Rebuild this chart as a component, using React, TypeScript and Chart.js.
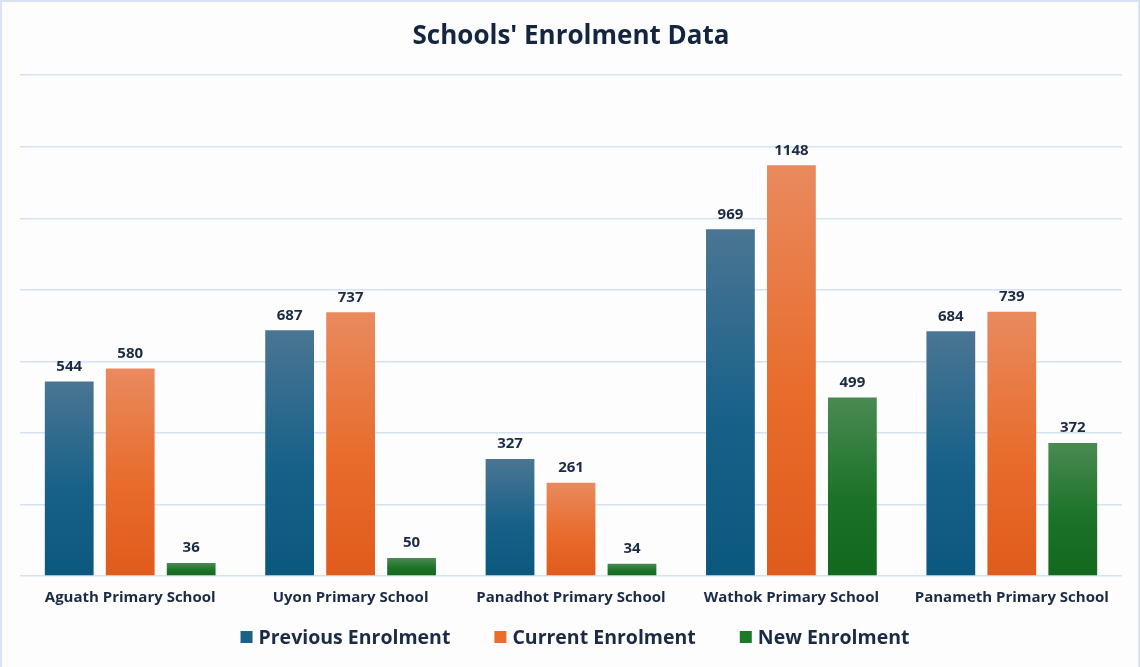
import React, { useEffect, useRef } from "react";
import { Chart, registerables } from "chart.js";

Chart.register(...registerables);

const categories = [
  "Aguath Primary School",
  "Uyon Primary School",
  "Panadhot Primary School",
  "Wathok Primary School",
  "Panameth Primary School",
];
const previousEnrolment = [544, 687, 327, 969, 684];
const currentEnrolment = [580, 737, 261, 1148, 739];
const newEnrolment = [36, 50, 34, 499, 372];
const seriesNames = ["Previous Enrolment", "Current Enrolment", "New Enrolment"];
const swatchColors = ["#1a6188", "#ea6e2a", "#1b7a2a"];

const TEXT = "#1c2b45";
const FONT = "'Open Sans', 'Noto Sans', sans-serif";

function gradient(top: string, mid: string, bottom: string, solid: string) {
  return (ctx: any) => {
    const chart = ctx.chart;
    const scales = chart.scales;
    if (ctx.type !== "data" || !chart.chartArea || !scales || !scales.y) return solid;
    const v = ctx.raw;
    if (typeof v !== "number") return solid;
    const yTop = scales.y.getPixelForValue(v);
    const yBase = scales.y.getPixelForValue(0);
    if (!isFinite(yTop) || !isFinite(yBase) || yTop === yBase) return solid;
    const g = chart.ctx.createLinearGradient(0, yTop, 0, yBase);
    g.addColorStop(0, top);
    g.addColorStop(0.55, mid);
    g.addColorStop(1, bottom);
    return g;
  };
}

const framePlugin = {
  id: "frame",
  beforeDraw(chart: any) {
    const c = chart.ctx;
    c.save();
    c.fillStyle = "#fdfdfe";
    c.fillRect(0, 0, chart.width, chart.height);
    c.strokeStyle = "#d9e3f4";
    c.lineWidth = 2;
    c.beginPath();
    c.moveTo(1, chart.height);
    c.lineTo(1, 1);
    c.lineTo(chart.width - 1, 1);
    c.lineTo(chart.width - 1, chart.height);
    c.stroke();
    c.restore();
  },
};

const labelPlugin = {
  id: "valueLabels",
  afterDatasetsDraw(chart: any) {
    const c = chart.ctx;
    c.save();
    c.fillStyle = TEXT;
    c.font = `700 15px ${FONT}`;
    c.textAlign = "center";
    c.textBaseline = "middle";
    chart.data.datasets.forEach((ds: any, i: number) => {
      const meta = chart.getDatasetMeta(i);
      meta.data.forEach((el: any, j: number) => {
        c.fillText(String(ds.data[j]), el.x, el.y - 15);
      });
    });
    c.restore();
  },
};

const legendPlugin = {
  id: "customLegend",
  afterDraw(chart: any) {
    const c = chart.ctx;
    c.save();
    c.font = `700 19.5px ${FONT}`;
    c.textBaseline = "middle";
    const box = 12, gap = 6, spacing = 44;
    const widths = seriesNames.map((n) => c.measureText(n).width);
    const total = widths.reduce((a, b) => a + b, 0) + seriesNames.length * (box + gap) + spacing * (seriesNames.length - 1);
    let x = chart.width / 2 + 5 - total / 2;
    const y = 637;
    seriesNames.forEach((n, i) => {
      c.fillStyle = swatchColors[i];
      c.fillRect(x, y - 6, box, box);
      x += box + gap;
      c.fillStyle = TEXT;
      c.fillText(n, x, y + 1);
      x += widths[i] + spacing;
    });
    c.restore();
  },
};

export default function App() {
  const ref = useRef<HTMLCanvasElement>(null);
  useEffect(() => {
    if (!ref.current) return;
    const chart = new Chart(ref.current, {
      type: "bar",
      data: {
        labels: categories,
        datasets: [
          {
            label: seriesNames[0],
            data: previousEnrolment,
            backgroundColor: gradient("#4b7593", "#176189", "#0b587e", swatchColors[0]) as any,
          },
          {
            label: seriesNames[1],
            data: currentEnrolment,
            backgroundColor: gradient("#e98a5e", "#e86c2c", "#e05b1c", swatchColors[1]) as any,
          },
          {
            label: seriesNames[2],
            data: newEnrolment,
            backgroundColor: gradient("#4a8a52", "#1c7328", "#12691e", swatchColors[2]) as any,
          },
        ],
      },
      options: {
        animation: false,
        responsive: false,
        maintainAspectRatio: false,
        categoryPercentage: 0.83,
        barPercentage: 0.8,
        layout: { padding: { left: 20, right: 18, top: 0, bottom: 55 } },
        plugins: {
          title: {
            display: true,
            text: "Schools' Enrolment Data",
            color: "#14263f",
            font: { family: FONT, size: 26, weight: "bold" },
            padding: { top: 21, bottom: 23 },
          },
          legend: { display: false },
          tooltip: { enabled: false },
        },
        scales: {
          x: {
            grid: { display: false },
            border: { display: false },
            ticks: {
              color: TEXT,
              font: { family: FONT, size: 15, weight: "bold" },
              padding: 5,
            },
          },
          y: {
            min: 0,
            max: 1400,
            ticks: { display: false, stepSize: 200 },
            grid: { color: "#d5e2f3", lineWidth: 1.5, drawTicks: false },
            border: { display: false },
          },
        },
      },
      plugins: [framePlugin, labelPlugin, legendPlugin],
    });
    return () => chart.destroy();
  }, []);
  return (
    <div style={{ position: "absolute", left: 0, top: 0, width: 1140, height: 667 }}>
      <canvas ref={ref} width={1140} height={667} style={{ display: "block" }} />
    </div>
  );
}
